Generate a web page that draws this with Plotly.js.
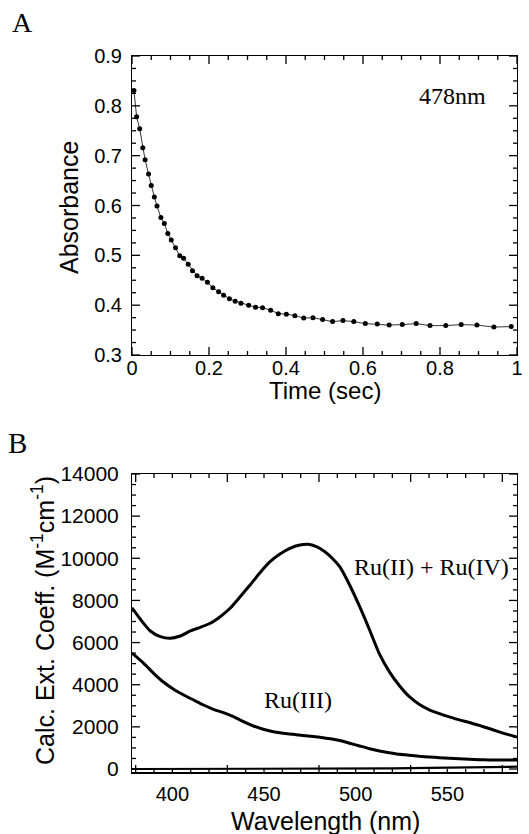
<!DOCTYPE html>
<html>
<head>
<meta charset="utf-8">
<script src="https://cdn.plot.ly/plotly-3.0.1.min.js"></script>
<style>
html,body{margin:0;padding:0;background:#fff;}
#wrap{position:relative;width:529px;height:834px;overflow:hidden;}
#plotA{position:absolute;left:0;top:0;width:529px;height:417px;}
#plotB{position:absolute;left:0;top:417px;width:529px;height:417px;}
</style>
</head>
<body>
<div id="wrap"><div id="plotA"></div><div id="plotB"></div></div>
<script>
// Panel A: absorbance decay at 478 nm
var timeSec = [0.005,0.012,0.020,0.028,0.034,0.043,0.050,0.058,0.065,0.075,0.084,0.093,0.102,0.113,0.124,0.134,0.146,0.157,0.169,0.182,0.196,0.210,0.225,0.238,0.253,0.268,0.283,0.303,0.321,0.339,0.360,0.380,0.401,0.423,0.446,0.470,0.495,0.521,0.548,0.576,0.606,0.637,0.668,0.702,0.738,0.774,0.815,0.855,0.896,0.940,0.985];
var absorbance = [0.831,0.778,0.754,0.716,0.692,0.663,0.640,0.617,0.599,0.576,0.564,0.544,0.531,0.515,0.499,0.494,0.482,0.469,0.459,0.454,0.446,0.435,0.427,0.420,0.413,0.408,0.404,0.400,0.396,0.395,0.390,0.383,0.382,0.379,0.374,0.375,0.371,0.367,0.369,0.367,0.363,0.362,0.360,0.361,0.363,0.359,0.359,0.361,0.360,0.356,0.357];

// Panel B: calculated extinction coefficients
var wlMixed = [378,382.6,388,393.5,398.9,404.3,409.8,415.2,420.7,426.1,431.5,437,442.4,447.8,453.3,458.7,464.1,469.6,474.1,478.6,483.2,487.5,491.3,496.7,502.2,507.6,513,518.5,523.9,529.3,534.8,540.2,545.7,551.1,556.5,562,567.4,572.8,578.3,583.7,588];
var epsMixed = [7650,7105,6550,6280,6203,6312,6550,6725,6915,7228,7627,8178,8733,9317,9839,10204,10474,10631,10664,10550,10313,9980,9601,8733,7703,6597,5450,4600,3950,3430,3060,2810,2630,2475,2330,2210,2070,1920,1760,1620,1520];
var wlRu3 = [378,384.4,389.8,395.3,400.7,406.2,411.6,417,422.4,427.9,433.3,438.8,444.2,449.6,455.1,460.5,465.9,471.4,476.8,482.2,487,491.3,496.7,502.2,507.6,513,518.5,523.9,529.3,534.8,540.2,545.7,551.1,556.5,562,567.4,572.8,578.3,583.7,588];
var epsRu3 = [5500,5016,4542,4115,3783,3512,3275,3037,2833,2672,2482,2245,2041,1884,1770,1694,1647,1590,1540,1485,1425,1350,1225,1092,963,854,774,698,650,603,570,536,508,489,460,441,430,427,427,427];
var wlBase = [378,500,520,540,560,588];
var epsBase = [0,0,25,50,80,110];

var labelMixed = 'Ru(II) + Ru(IV)';
var labelRu3 = 'Ru(III)';
var labelWave = '478nm';

var sans = 'Liberation Sans, Arial, sans-serif';
var serif = 'Liberation Serif, Times New Roman, serif';
var NOTICK = 'rgba(0,0,0,0)';

var axCommon = {
  showgrid:false, zeroline:false, showline:true, linecolor:'#000', linewidth:1,
  mirror:true, ticks:'inside', ticklen:8, tickwidth:1, tickcolor:NOTICK,
  tickfont:{family:sans, size:20, color:'#000'}
};
function ax(extra){ return Object.assign({}, axCommon, extra); }
var xd = [132/529, 517/529];
var H = 417;
var plotW = 385, plotH = 299;
function px(x){ return x/529; }
function py(y){ return 1 - y/H; }
function ann(text, x, y, family, size, angle){
  return {text:text, xref:'paper', yref:'paper', x:px(x), y:py(y), xanchor:'center', yanchor:'middle',
    textangle:angle||0, showarrow:false, font:{family:family, size:size, color:'#000'}};
}
// inside tick marks on all four sides, drawn as axis decoration
function tickShapes(x0, xStep, xN, xMajorEvery, y0, yStep, yN, yMajorEvery){
  var s = [], i, v, L;
  var ln = {color:'#000', width:1.3};
  for(i=0;i<=xN;i++){
    v = x0 + i*xStep;
    L = (i % xMajorEvery === 0 ? 8 : 4) / plotH;
    s.push({type:'line', layer:'above', xref:'x', yref:'y domain', x0:v, x1:v, y0:0, y1:L, line:ln});
    s.push({type:'line', layer:'above', xref:'x', yref:'y domain', x0:v, x1:v, y0:1, y1:1-L, line:ln});
  }
  for(i=0;i<=yN;i++){
    v = y0 + i*yStep;
    L = (i % yMajorEvery === 0 ? 8 : 4) / plotW;
    s.push({type:'line', layer:'above', xref:'x domain', yref:'y', x0:0, x1:L, y0:v, y1:v, line:ln});
    s.push({type:'line', layer:'above', xref:'x domain', yref:'y', x0:1, x1:1-L, y0:v, y1:v, line:ln});
  }
  return s;
}

// ---------- Panel A ----------
var tracesA = [
  {x: timeSec, y: absorbance, mode:'lines+markers', type:'scatter',
   line:{color:'#000', width:0.8}, marker:{color:'#000', size:5}, showlegend:false}
];
var layoutA = {
  width:529, height:H, margin:{l:0,r:0,t:0,b:0}, showlegend:false,
  xaxis: ax({domain:xd, range:[0,1], dtick:0.2, tick0:0, ticklabelstandoff:-5}),
  yaxis: ax({domain:[(H-355)/H, (H-56)/H], range:[0.3,0.9], dtick:0.1, tick0:0.3,
    tickformat:'.1f', ticklabelstandoff:5}),
  shapes: tickShapes(0, 0.05, 20, 4, 0.3, 0.025, 24, 4),
  annotations:[
    ann('A', 22, 23, serif, 28),
    ann(labelWave, 452, 96, serif, 24),
    ann('Absorbance', 69, 208, sans, 25, -90),
    ann('Time (sec)', 325, 390, sans, 24)
  ]
};

// ---------- Panel B ----------
var tracesB = [
  {x: wlMixed, y: epsMixed, mode:'lines', type:'scatter',
   line:{color:'#000', width:3, shape:'spline', smoothing:0.6}, showlegend:false},
  {x: wlRu3, y: epsRu3, mode:'lines', type:'scatter',
   line:{color:'#000', width:3, shape:'spline', smoothing:0.6}, showlegend:false},
  {x: wlBase, y: epsBase, mode:'lines', type:'scatter',
   line:{color:'#000', width:2.2}, showlegend:false}
];
var shapesB = tickShapes(380, 10, 20, 5, 0, 500, 28, 4);
shapesB.push({type:'line', layer:'above', xref:'x domain', yref:'y domain', x0:0, x1:1, y0:0, y1:0, line:{color:'#000', width:2}});
var layoutB = {
  width:529, height:H, margin:{l:0,r:0,t:0,b:0}, showlegend:false,
  xaxis: ax({domain:xd, range:[378,588], dtick:50, tick0:400, ticklabelstandoff:3}),
  yaxis: ax({domain:[(H-356)/H, (H-57)/H], range:[-190,14000], dtick:2000, tick0:0,
    tickformat:'d', tickfont:{family:sans, size:21, color:'#000'}, ticklabelstandoff:8}),
  shapes: shapesB,
  annotations:[
    ann('B', 17, 26, serif, 29),
    ann(labelMixed, 431, 150, serif, 24),
    ann(labelRu3, 298, 283, serif, 24),
    ann('Calc. Ext. Coeff. (M<sup>-1</sup>cm<sup>-1</sup>)', 43, 204, sans, 25, -90),
    ann('Wavelength (nm)', 325, 404, sans, 25)
  ]
};

var cfg = {staticPlot:true, displayModeBar:false};
Plotly.newPlot('plotA', tracesA, layoutA, cfg);
Plotly.newPlot('plotB', tracesB, layoutB, cfg);
</script>
</body>
</html>
